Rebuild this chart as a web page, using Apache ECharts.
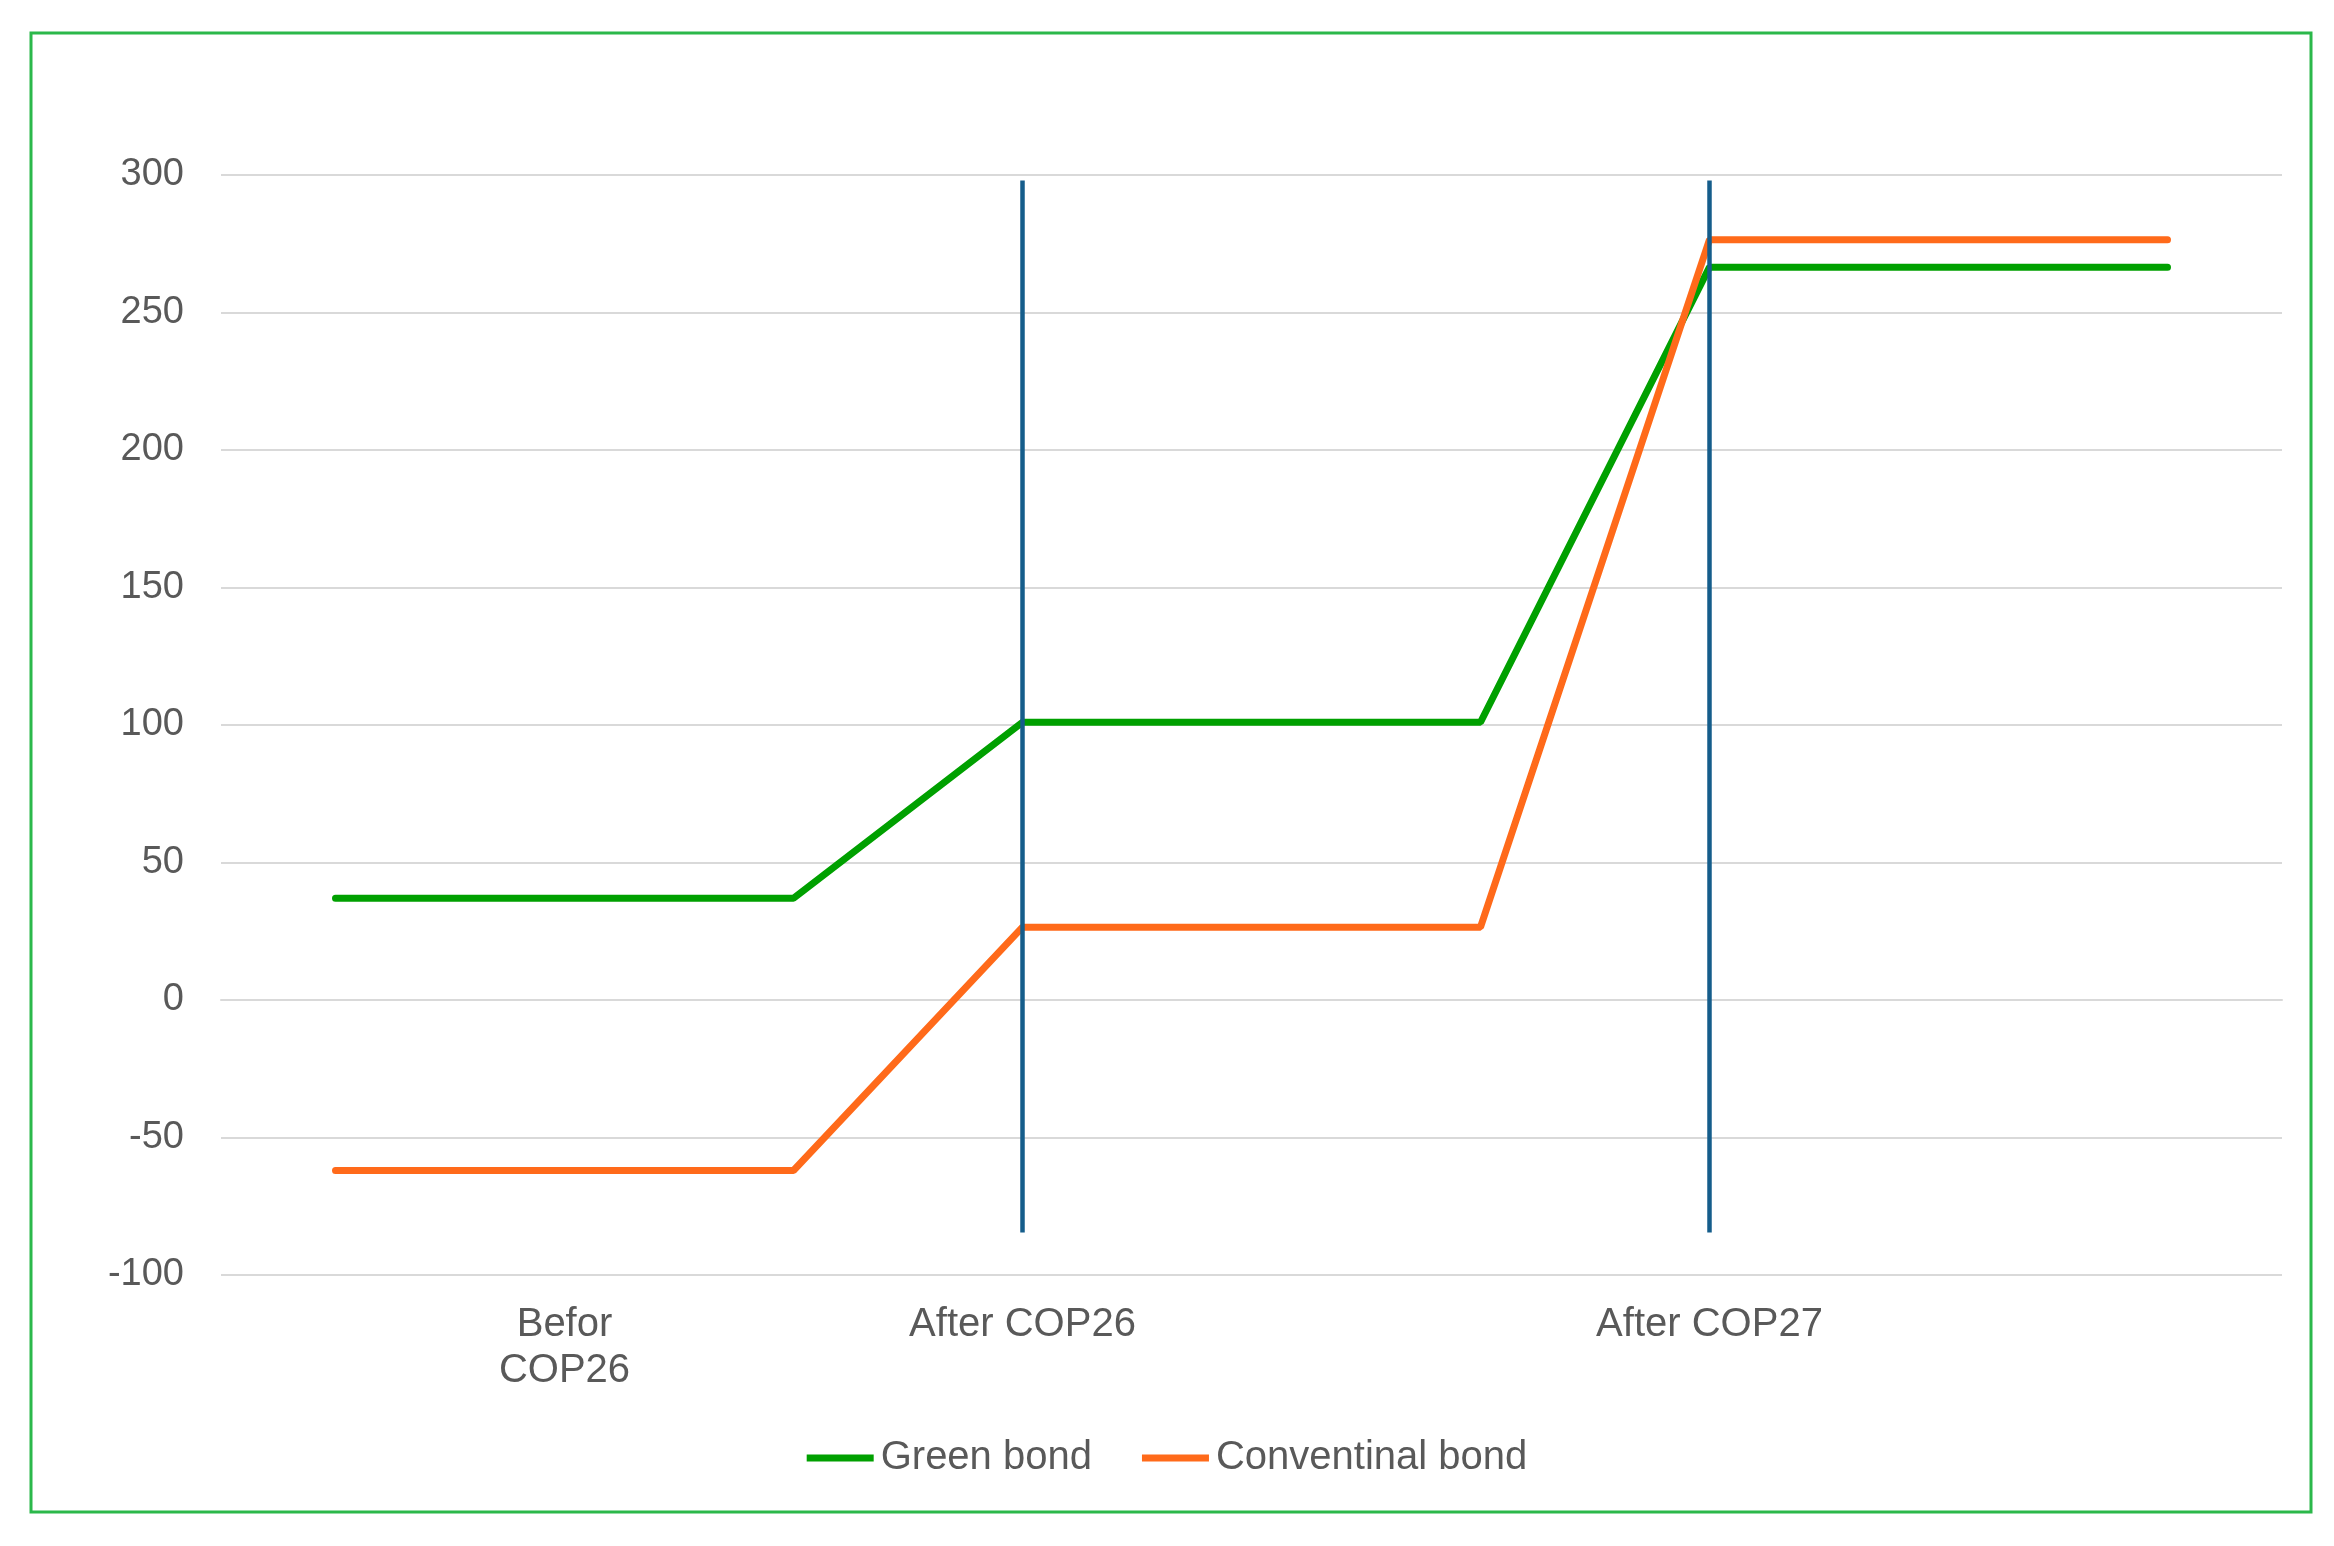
<!DOCTYPE html>
<html>
<head>
<meta charset="utf-8">
<script src="https://cdn.jsdelivr.net/npm/echarts@6/dist/echarts.min.js"></script>
<style>
html,body{margin:0;padding:0;background:#fff;}
#chart{width:2334px;height:1546px;}
</style>
</head>
<body>
<div id="chart"></div>
<script>
const categories = ['', 'Befor\nCOP26', '', 'After COP26', '', '', 'After COP27', '', ''];
const greenBond = [37, 37, 37, 101, 101, 101, 266.5, 266.5, 266.5];
const conventionalBond = [-62, -62, -62, 26.5, 26.5, 26.5, 276.5, 276.5, 276.5];
const markerCategories = [3, 6];
const markerRange = [298, -84.5];
const yTicks = [-100, -50, 0, 50, 100, 150, 200, 250, 300];

const chart = echarts.init(document.getElementById('chart'));
const font = 'Liberation Sans, Arial, sans-serif';
chart.setOption({
  animation: false,
  backgroundColor: '#ffffff',
  graphic: [{
    type: 'rect',
    shape: { x: 31, y: 33, width: 2280, height: 1479 },
    style: { fill: 'none', stroke: '#2bb84a', lineWidth: 3 },
    silent: true
  }],
  grid: { left: 221, right: 52, top: 175, bottom: 271 },
  legend: {
    left: 'center',
    top: 1433,
    icon: 'rect',
    itemWidth: 67,
    itemHeight: 7,
    itemGap: 50,
    textStyle: { fontFamily: font, fontSize: 40, color: '#595959', padding: [0, 0, 0, 2] },
    data: ['Green bond', 'Conventinal bond']
  },
  xAxis: {
    type: 'category',
    data: categories,
    boundaryGap: true,
    axisLine: { show: true, lineStyle: { color: '#d9d9d9', width: 2 } },
    axisTick: { show: false },
    axisLabel: {
      interval: 0,
      margin: 27,
      fontFamily: font,
      fontSize: 40,
      color: '#595959',
      lineHeight: 46
    },
    splitLine: { show: false }
  },
  yAxis: {
    type: 'value',
    min: yTicks[0],
    max: yTicks[yTicks.length - 1],
    interval: 50,
    axisLine: { show: false },
    axisTick: { show: false },
    axisLabel: { margin: 37, fontFamily: font, fontSize: 38, color: '#595959' },
    splitLine: { lineStyle: { color: '#d9d9d9', width: 2 } }
  },
  series: [
    {
      name: 'Green bond',
      type: 'line',
      data: greenBond,
      symbol: 'none',
      itemStyle: { color: '#00a000' },
      lineStyle: { color: '#00a000', width: 7, cap: 'round' },
      z: 3
    },
    {
      name: 'Conventinal bond',
      type: 'line',
      data: conventionalBond,
      symbol: 'none',
      itemStyle: { color: '#ff6a1a' },
      lineStyle: { color: '#ff6a1a', width: 7, cap: 'round' },
      z: 3,
      markLine: {
        silent: true,
        symbol: 'none',
        label: { show: false },
        lineStyle: { color: '#155d8b', width: 4.5, type: 'solid' },
        z: 5,
        data: markerCategories.map(i => [
          { coord: [i, markerRange[0]] },
          { coord: [i, markerRange[1]] }
        ])
      }
    }
  ]
});
</script>
</body>
</html>
